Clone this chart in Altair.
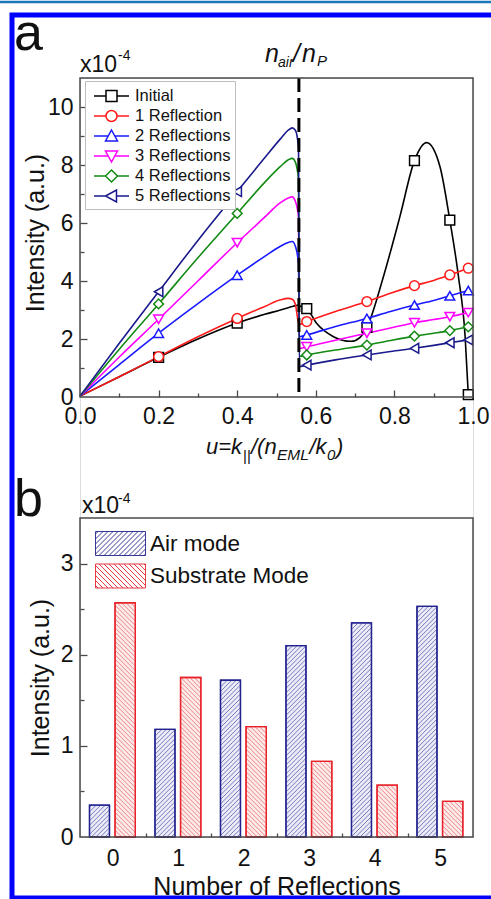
import altair as alt
import numpy as np
import pandas as pd

FONT = "Liberation Sans"
INK = "#111111"
FRAME = "#4a4a4a"

# plot-area geometry (pixels): two stacked panels sharing one view
W = 393
HA = 319                    # panel (a) plot height
GAP = 121                   # space between the two plot areas
HB = 319                    # panel (b) plot height
B_TOP = HA + GAP
TOTAL_H = HA + GAP + HB

# ---------------- panel (a): intensity vs. in-plane wavevector ----------------
SERIES = ["Initial", "1 Reflection", "2 Reflections", "3 Reflections",
          "4 Reflections", "5 Reflections"]
COLORS = ["#000000", "#ff1a1a", "#1a1aff", "#ff00ff", "#138a13", "#1a1a8c"]
SHAPES = ["square", "circle", "triangle-up", "triangle-down", "diamond", "triangle-left"]

CRITICAL_U = 0.557          # u = n_air / n_P

U_BELOW = [0.0, 0.1, 0.2, 0.3, 0.4, 0.47, 0.51, 0.53, 0.54, 0.548, 0.556]
U_ABOVE = [0.558, 0.577, 0.65, 0.73, 0.79, 0.851, 0.9, 0.941, 0.988]
U_ABOVE_INITIAL = [0.558, 0.577, 0.602, 0.645, 0.69, 0.712, 0.73, 0.772, 0.814,
                   0.851, 0.882, 0.916, 0.941, 0.963, 0.98, 0.988]
MARKER_U = [0.2, 0.4, 0.577, 0.73, 0.851, 0.941, 0.988]

I_INITIAL_BELOW = [0.03, 0.70, 1.37, 2.00, 2.55, 2.85, 3.00, 3.08, 3.12, 3.15, 3.17]
I_INITIAL_ABOVE = [3.15, 3.05, 2.54, 2.08, 1.92, 2.05, 2.40, 4.15, 6.22, 8.15, 8.77,
                   7.94, 6.10, 4.15, 2.08, 0.08]
I_R1_BELOW = [0.03, 0.70, 1.39, 2.08, 2.71, 3.12, 3.35, 3.40, 3.37, 3.20, 2.55]
I_R1_ABOVE = [2.50, 2.60, 2.95, 3.29, 3.58, 3.84, 4.02, 4.21, 4.44]
I_R2_BELOW = [0.03, 1.12, 2.20, 3.22, 4.20, 4.85, 5.20, 5.33, 5.36, 5.20, 4.60]
I_R2_ABOVE = [2.08, 2.14, 2.43, 2.71, 2.95, 3.17, 3.33, 3.49, 3.67]
I_R3_BELOW = [0.03, 1.38, 2.68, 4.00, 5.32, 6.20, 6.70, 6.86, 6.90, 6.75, 6.20]
I_R3_ABOVE = [1.68, 1.73, 1.96, 2.20, 2.38, 2.56, 2.67, 2.77, 2.91]
I_R4_BELOW = [0.03, 1.65, 3.21, 4.80, 6.33, 7.40, 7.95, 8.18, 8.23, 8.10, 7.50]
I_R4_ABOVE = [1.40, 1.45, 1.62, 1.79, 1.95, 2.10, 2.20, 2.29, 2.42]
I_R5_BELOW = [0.03, 1.85, 3.63, 5.40, 7.08, 8.25, 8.90, 9.20, 9.28, 9.20, 8.60]
I_R5_ABOVE = [1.05, 1.10, 1.28, 1.45, 1.57, 1.68, 1.78, 1.87, 1.97]

# ---------------- panel (b): mode intensity vs. number of reflections ----------------
REFLECTIONS = [0, 1, 2, 3, 4, 5]
MODES = ["Air mode", "Substrate Mode"]
AIR_MODE = [0.35, 1.18, 1.72, 2.10, 2.35, 2.53]
SUBSTRATE_MODE = [2.57, 1.75, 1.21, 0.83, 0.57, 0.39]

BAR_SPAN = {"Air mode": (-0.355, -0.05), "Substrate Mode": (0.035, 0.345)}
HATCH_DIR = {"Air mode": "/", "Substrate Mode": "\\"}
BORDER = ["#22228f", "#e8222b"]
TINT = ["#ececf7", "#fcebeb"]
HATCH = ["#5a5ab8", "#ee6868"]

# ---------- assemble tables ----------
curves = [
    ("Initial", U_BELOW, I_INITIAL_BELOW, U_ABOVE_INITIAL, I_INITIAL_ABOVE),
    ("1 Reflection", U_BELOW, I_R1_BELOW, U_ABOVE, I_R1_ABOVE),
    ("2 Reflections", U_BELOW, I_R2_BELOW, U_ABOVE, I_R2_ABOVE),
    ("3 Reflections", U_BELOW, I_R3_BELOW, U_ABOVE, I_R3_ABOVE),
    ("4 Reflections", U_BELOW, I_R4_BELOW, U_ABOVE, I_R4_ABOVE),
    ("5 Reflections", U_BELOW, I_R5_BELOW, U_ABOVE, I_R5_ABOVE),
]
rows = []
for name, ub, ib, ua, ia in curves:
    for u, v in zip(list(ub) + list(ua), list(ib) + list(ia)):
        rows.append({"series": name, "u": u, "I": v})
curve_df = pd.DataFrame(rows)
curve_df["marker"] = curve_df["u"].round(3).isin(MARKER_U)
marker_df = curve_df[curve_df["marker"]]

bar_rows = []
for mode, vals in zip(MODES, [AIR_MODE, SUBSTRATE_MODE]):
    lo, hi = BAR_SPAN[mode]
    for r, v in zip(REFLECTIONS, vals):
        bar_rows.append({"mode": mode, "n": r, "x0": r + lo, "x1": r + hi, "value": v})
bar_df = pd.DataFrame(bar_rows)

# diagonal hatching inside each bar, 45 degrees on screen
PX_PER_X = W / 6.0
PX_PER_Y = HB / 3.5
HATCH_STEP = 4.5


def hatch_segments(x0, x1, v, direction):
    w = (x1 - x0) * PX_PER_X
    h = v * PX_PER_Y
    segs = []
    if direction == "/":
        c = -h + HATCH_STEP / 2
        while c < w:
            a, b = max(0.0, c), min(w, h + c)
            if b > a:
                segs.append((x0 + a / PX_PER_X, (a - c) / PX_PER_Y,
                             x0 + b / PX_PER_X, (b - c) / PX_PER_Y))
            c += HATCH_STEP
    else:
        c = HATCH_STEP / 2
        while c < w + h:
            a, b = max(0.0, c - h), min(w, c)
            if b > a:
                segs.append((x0 + a / PX_PER_X, (c - a) / PX_PER_Y,
                             x0 + b / PX_PER_X, (c - b) / PX_PER_Y))
            c += HATCH_STEP
    return segs


hatch_rows = []
for bar in bar_rows:
    for hx0, hy0, hx1, hy1 in hatch_segments(bar["x0"], bar["x1"], bar["value"],
                                             HATCH_DIR[bar["mode"]]):
        hatch_rows.append({"mode": bar["mode"], "hx0": hx0, "hy0": hy0,
                           "hx1": hx1, "hy1": hy1})
hatch_df = pd.DataFrame(hatch_rows)

# ---------- legend symbols (line + marker, hatched swatch) ----------
LEGEND_PATHS_A = [
    "M-1.75,0H-0.55M0.55,0H1.75M-0.55,-0.55H0.55V0.55H-0.55Z",
    "M-1.75,0H-0.55M0.55,0H1.75M-0.55,0A0.55,0.55,0,1,1,0.55,0A0.55,0.55,0,1,1,-0.55,0Z",
    "M-1.75,0H-0.33M0.33,0H1.75M0,-0.6L0.6,0.5H-0.6Z",
    "M-1.75,0H-0.33M0.33,0H1.75M0,0.6L0.6,-0.5H-0.6Z",
    "M-1.75,0H-0.6M0.6,0H1.75M0,-0.6L0.6,0L0,0.6L-0.6,0Z",
    "M-1.75,0H-0.6M0.5,0H1.75M-0.6,0L0.5,-0.6V0.6Z",
]


def swatch_path(direction, hw=25 / 12, hh=1.0, step=5 / 12):
    parts = [f"M{-hw:.3f},{-hh:.3f}H{hw:.3f}V{hh:.3f}H{-hw:.3f}Z"]
    c = -(hw + hh) + step / 2
    while c < hw + hh:
        xa_, xb_ = max(-hw, c - hh), min(hw, c + hh)
        if xb_ > xa_:
            if direction == "/":
                ya_, yb_ = c - xa_, c - xb_
            else:
                ya_, yb_ = xa_ - c, xb_ - c
            parts.append(f"M{xa_:.3f},{ya_:.3f}L{xb_:.3f},{yb_:.3f}")
        c += step
    return "".join(parts)


LEGEND_PATHS_B = [swatch_path(HATCH_DIR[m]) for m in MODES]

# ---------- scales & axes ----------
xa = alt.Scale(domain=[0, 1], range=[0, W], nice=False, zero=False)
ya = alt.Scale(domain=[0, 11], range=[HA, 0], nice=False, zero=False)
xb = alt.Scale(domain=[-0.5, 5.5], range=[0, W], nice=False, zero=False)
yb = alt.Scale(domain=[0, 3.5], range=[TOTAL_H, B_TOP], nice=False, zero=False)

LABEL_STYLE = dict(domain=False, ticks=False, tickSize=0, grid=False,
                   labelFont=FONT, labelFontSize=23, labelColor=INK,
                   labelFlush=False, labelOverlap=False)
TITLE_STYLE = dict(titleFont=FONT, titleFontSize=25, titleFontWeight="normal",
                   titleColor=INK, titleBaseline="alphabetic", titleAlign="center")


def tick_axis(orient, values, offset, major_test):
    return alt.Axis(orient=orient, values=values, offset=offset, domain=False,
                    labels=False, grid=False, title=None, ticks=True,
                    tickColor=FRAME, tickWidth=1.3,
                    tickSize={"condition": {"test": major_test, "value": 7}, "value": 4})


ax_a_x = alt.Axis(orient="bottom", offset=-(TOTAL_H - HA), title=None,
                  values=[0, 0.2, 0.4, 0.6, 0.8, 1.0], format=".1f",
                  labelPadding=26, labelBaseline="alphabetic", **LABEL_STYLE)
ax_a_y = alt.Axis(orient="left", title="Intensity (a.u.)", values=[0, 2, 4, 6, 8, 10],
                  format="d", labelPadding=7, titleX=-37, titleY=154.5, titleAngle=270,
                  **LABEL_STYLE, **TITLE_STYLE)
ax_b_x = alt.Axis(orient="bottom", title="Number of Reflections", values=REFLECTIONS,
                  format="d", labelPadding=28, labelBaseline="alphabetic",
                  titleY=57, **LABEL_STYLE, **TITLE_STYLE)
ax_b_y = alt.Axis(orient="left", title="Intensity (a.u.)", values=[0, 1, 2, 3],
                  format="d", labelPadding=7, titleX=-32, titleAngle=270,
                  titleY=(TOTAL_H + B_TOP) / 2, **LABEL_STYLE, **TITLE_STYLE)

color_a = alt.Scale(domain=SERIES, range=COLORS)

# ---------- panel (a) layers ----------
lines_a = alt.Chart(curve_df).mark_line(interpolate="monotone", strokeWidth=1.6).encode(
    x=alt.X("u:Q", scale=xa, axis=ax_a_x),
    y=alt.Y("I:Q", scale=ya, axis=ax_a_y),
    color=alt.Color("series:N", scale=color_a, legend=None),
    order="u:Q",
)

points_a = alt.Chart(marker_df).mark_point(filled=False, fill="white", fillOpacity=1,
                                           size=95, strokeWidth=1.5, opacity=1).encode(
    x=alt.X("u:Q", scale=xa,
            axis=tick_axis("top", [round(0.1 * k, 1) for k in range(1, 10)], -HA,
                           "round(datum.value * 10) % 2 == 0")),
    y=alt.Y("I:Q", scale=ya,
            axis=tick_axis("right", list(range(1, 11)), -W, "round(datum.value) % 2 == 0")),
    color=alt.Color("series:N", scale=color_a, legend=None),
    shape=alt.Shape("series:N", scale=alt.Scale(domain=SERIES, range=SHAPES), legend=None),
)

critical_a = alt.Chart(pd.DataFrame({"u": [CRITICAL_U]})).mark_rule(
    color="black", strokeWidth=3, strokeDash=[14, 6]).encode(
    x=alt.X("u:Q", scale=xa, axis=None),
    y=alt.value(0), y2=alt.value(HA),
)

frame_a = alt.Chart(pd.DataFrame({"k": [0]})).mark_rect(
    fillOpacity=0, stroke=FRAME, strokeWidth=1.5).encode(
    x=alt.value(0), x2=alt.value(W), y=alt.value(0), y2=alt.value(HA))

LEG_A = alt.Legend(title=None, orient="none", legendX=5, legendY=3, padding=4,
                   strokeColor="#bdbdbd", fillColor="white", labelFont=FONT,
                   labelFontSize=16.5, labelColor=INK, labelOffset=12.5, symbolOffset=11.5,
                   symbolSize=400, symbolStrokeWidth=1.5, rowPadding=0, labelLimit=300)
legend_a = alt.Chart(pd.DataFrame({"series": SERIES})).mark_point(
    opacity=0, filled=False).encode(
    color=alt.Color("series:N", scale=color_a, legend=LEG_A),
    shape=alt.Shape("series:N", scale=alt.Scale(domain=SERIES, range=LEGEND_PATHS_A),
                    legend=LEG_A),
)

panel_a = alt.layer(lines_a, critical_a, points_a, frame_a, legend_a).resolve_scale(
    color="independent", shape="independent").resolve_axis(x="independent", y="independent")

# ---------- panel (b) layers ----------
bars_b = alt.Chart(bar_df).mark_rect(strokeWidth=1.3).encode(
    x=alt.X("x0:Q", scale=xb, axis=ax_b_x),
    x2="x1:Q",
    y=alt.Y("value:Q", scale=yb, axis=ax_b_y),
    y2=alt.datum(0),
    fill=alt.Fill("mode:N", scale=alt.Scale(domain=MODES, range=TINT), legend=None),
    stroke=alt.Stroke("mode:N", scale=alt.Scale(domain=MODES, range=BORDER), legend=None),
)

hatch_b = alt.Chart(hatch_df).mark_rule(strokeWidth=0.8).encode(
    x=alt.X("hx0:Q", scale=xb,
            axis=tick_axis("top", [0.5, 1.5, 2.5, 3.5, 4.5], -TOTAL_H, "false")),
    x2="hx1:Q",
    y=alt.Y("hy0:Q", scale=yb,
            axis=tick_axis("right", [0.5, 1, 1.5, 2, 2.5, 3], -W,
                           "round(datum.value * 2) % 2 == 0")),
    y2="hy1:Q",
    stroke=alt.Stroke("mode:N", scale=alt.Scale(domain=MODES, range=HATCH), legend=None),
)

outline_b = alt.Chart(bar_df).mark_rect(strokeWidth=1.3, fillOpacity=0).encode(
    x=alt.X("x0:Q", scale=xb, axis=None), x2="x1:Q",
    y=alt.Y("value:Q", scale=yb, axis=None), y2=alt.datum(0),
    stroke=alt.Stroke("mode:N", scale=alt.Scale(domain=MODES, range=BORDER), legend=None),
)

frame_b = alt.Chart(pd.DataFrame({"k": [0]})).mark_rect(
    fillOpacity=0, stroke=FRAME, strokeWidth=1.5).encode(
    x=alt.value(0), x2=alt.value(W), y=alt.value(B_TOP), y2=alt.value(TOTAL_H))

LEG_B = alt.Legend(title=None, orient="none", legendX=0, legendY=B_TOP + 13, padding=0,
                   labelFont=FONT, labelFontSize=22.5, labelColor=INK, labelOffset=17,
                   symbolOffset=28, symbolSize=576, symbolStrokeWidth=0.9,
                   rowPadding=3.5, labelLimit=300)
legend_b = alt.Chart(pd.DataFrame({"mode": MODES})).mark_point(
    opacity=0, filled=True).encode(
    fill=alt.Fill("mode:N", scale=alt.Scale(domain=MODES, range=TINT), legend=LEG_B),
    stroke=alt.Stroke("mode:N", scale=alt.Scale(domain=MODES, range=BORDER), legend=LEG_B),
    shape=alt.Shape("mode:N", scale=alt.Scale(domain=MODES, range=LEGEND_PATHS_B),
                    legend=LEG_B),
)

panel_b = alt.layer(bars_b, hatch_b, outline_b, frame_b, legend_b).resolve_scale(
    fill="independent", stroke="independent", shape="independent").resolve_axis(
    x="independent", y="independent")

# ---------- annotations (panel letters, exponents, rich-text labels) ----------
one = pd.DataFrame({"k": [0]})


def note(text, x, y, size, style="normal"):
    return alt.Chart(one).mark_text(
        text=text, font=FONT, fontSize=size, fontStyle=style, color=INK,
        align="left", baseline="alphabetic").encode(x=alt.value(x), y=alt.value(y))


notes = [
    note("a", -66, -28, 52),
    note("x10", 0, -6, 23),
    note("-4", 38, -18, 14),
    # n_air / n_P above the critical line
    note("n", 185, -16, 25, "italic"),
    note("air", 198, -11, 14, "italic"),
    note("/", 213, -16, 25, "italic"),
    note("n", 222, -16, 25, "italic"),
    note("P", 237, -12, 15, "italic"),
    # u = k_|| / (n_EML / k_0)
    note("u=k", 126, 376, 22, "italic"),
    note("||", 163, 383, 15),
    note("/(n", 171, 376, 22, "italic"),
    note("EML", 197, 382, 15.5, "italic"),
    note("/k", 229.5, 376, 22, "italic"),
    note("0", 247, 382, 15, "italic"),
    note(")", 256, 376, 22, "italic"),
    note("b", -66, B_TOP - 2, 52),
    note("x10", 2, B_TOP - 5, 23),
    note("-4", 38, B_TOP - 15, 14),
]

border = alt.Chart(one).mark_rect(fillOpacity=0, stroke="#0000ff", strokeWidth=5).encode(
    x=alt.value(-68), x2=alt.value(700), y=alt.value(-63), y2=alt.value(TOTAL_H + 61))
rule_top = alt.Chart(one).mark_rule(stroke="#1b75bb", strokeWidth=2.5).encode(
    x=alt.value(-80), x2=alt.value(420), y=alt.value(-76))

chart = alt.layer(panel_a, panel_b, *notes, border, rule_top).resolve_scale(
    x="independent", y="independent", color="independent", shape="independent",
    fill="independent", stroke="independent").resolve_axis(
    x="independent", y="independent").properties(
    width=W, height=TOTAL_H,
    padding={"left": 80, "top": 78, "right": 18, "bottom": 62},
    autosize=alt.AutoSizeParams(type="none"),
).configure_view(stroke=None).configure(background="white")

chart.save("out.html", embed_options={"renderer": "svg", "actions": False})
